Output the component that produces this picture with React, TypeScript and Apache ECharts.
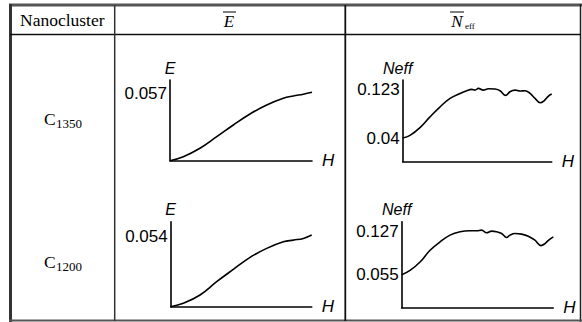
import React, { useEffect, useRef } from 'react';
import * as echarts from 'echarts';

// Row / column headings
const rowBase = 'C';
const rowSubs = ['1350', '1200'];
const headFirst = 'Nanocluster';

// C1350 — mean energy E vs field H
const hE1350 = [0, 9.4, 21.1, 32.9, 44.6, 56.3, 68.1, 79.8, 86.8, 93.9, 100];
const vE1350 = [0, 0.0034, 0.0105, 0.0203, 0.0302, 0.0395, 0.0471, 0.0528, 0.0547, 0.0562, 0.0578];
const tickE1350 = [0.057];

// C1350 — Neff vs H
const hN1350 = [0, 4.9, 11.6, 18.3, 25.1, 31.8, 38.5, 43, 46.3, 48.5, 50.8, 54.1, 57.5, 62, 65.3, 69.1, 72, 75.4, 78.7, 82.1, 85.5, 88.8, 92.2, 94.9, 97.8, 100];
const vN1350 = [0.04, 0.0446, 0.0576, 0.0758, 0.0929, 0.1071, 0.1156, 0.1202, 0.1224, 0.1212, 0.1241, 0.1212, 0.1236, 0.123, 0.1202, 0.1122, 0.1185, 0.1212, 0.1196, 0.1202, 0.1156, 0.1071, 0.0997, 0.1031, 0.1111, 0.1145];
const tickN1350 = [0.04, 0.123];

// C1200 — E vs H
const hE1200 = [0, 9, 20.8, 32.6, 44.4, 56.3, 68.1, 79.9, 87, 94.1, 100];
const vE1200 = [0, 0.0026, 0.009, 0.0193, 0.0288, 0.0381, 0.045, 0.0501, 0.0514, 0.0527, 0.0553];
const tickE1200 = [0.054];

// C1200 — Neff vs H
const hN1200 = [0, 5.5, 12.1, 18.7, 25.3, 31.9, 38.5, 45.1, 49.5, 52.7, 56, 59.3, 62.6, 65.9, 69.2, 71.4, 74.7, 79.1, 83.5, 87.9, 91.9, 94.5, 97.4, 100];
const vN1200 = [0.055, 0.0623, 0.0764, 0.0961, 0.1101, 0.1214, 0.127, 0.1287, 0.1287, 0.1298, 0.1253, 0.1281, 0.127, 0.1242, 0.1174, 0.1214, 0.1242, 0.1231, 0.1197, 0.1129, 0.1039, 0.1073, 0.1141, 0.1186];
const tickN1200 = [0.055, 0.127];

const SANS = 'Liberation Sans, Arial, sans-serif';
const SERIF = 'Liberation Serif, Times New Roman, serif';

const zip = (xs: number[], ys: number[]) => xs.map((x, i) => [x, ys[i]]);

export default function App() {
  const ref = useRef<HTMLDivElement>(null);
  useEffect(() => {
    if (!ref.current) return;
    const chart = echarts.init(ref.current, null, { renderer: 'svg' });

    const grids = [
      { left: 170, top: 80, width: 142, height: 80.7 },
      { left: 402.7, top: 80, width: 149, height: 81.7 },
      { left: 170.7, top: 221.7, width: 141, height: 85 },
      { left: 401.7, top: 221.7, width: 151.6, height: 86 },
    ];
    const yMax = [0.0682, 0.1383, 0.0656, 0.1439];
    const yNames = ['E', 'Neff', 'E', 'Neff'];
    const ticks = [tickE1350, tickN1350, tickE1200, tickN1200];
    const datas = [zip(hE1350, vE1350), zip(hN1350, vN1350), zip(hE1200, vE1200), zip(hN1200, vN1200)];

    const axisLine = { show: true, onZero: false, lineStyle: { color: '#000', width: 1.6 } };

    const xAxis = grids.map((_, i) => ({
      type: 'value', gridIndex: i, min: 0, max: 100,
      axisLine, axisTick: { show: false }, axisLabel: { show: false }, splitLine: { show: false },
      name: 'H', nameLocation: 'end', nameGap: 10,
      nameTextStyle: { fontStyle: 'italic', fontFamily: SANS, fontSize: 17, color: '#000', verticalAlign: 'middle', padding: [2, 0, 0, 0] },
    }));
    const yAxis = grids.map((_, i) => ({
      type: 'value', gridIndex: i, min: 0, max: yMax[i],
      axisLine, axisTick: { show: false }, splitLine: { show: false },
      axisLabel: {
        customValues: ticks[i], margin: 3, fontSize: 17, fontFamily: SANS, color: '#000',
        formatter: (v: number) => String(v),
      },
      name: yNames[i], nameLocation: 'end', nameGap: 4,
      nameTextStyle: { fontStyle: 'italic', fontFamily: SANS, fontSize: 16, color: '#000', align: 'center', padding: [0, i % 2 ? 10 : 0, 0, 0] },
    }));
    const series = datas.map((d, i) => ({
      type: 'line', xAxisIndex: i, yAxisIndex: i, data: d, smooth: 0.4, showSymbol: false,
      lineStyle: { color: '#000', width: 1.6 },
    }));

    const line = (x1: number, y1: number, x2: number, y2: number, w: number, c: string) => ({
      type: 'line', shape: { x1, y1, x2, y2 }, style: { stroke: c, lineWidth: w },
    });

    const graphic: any[] = [
      line(9, 5, 582, 5, 3, '#555'),
      line(10.5, 4, 10.5, 322, 3, '#333'),
      line(580.5, 4, 580.5, 322, 1.5, '#222'),
      line(9, 320.5, 582, 320.5, 2, '#555'),
      line(10, 34.5, 581, 34.5, 1.5, '#111'),
      line(114.7, 5, 114.7, 321, 1.5, '#333'),
      line(345.3, 5, 345.3, 321, 1.8, '#111'),
      { type: 'text', x: 20, y: 20, style: { text: headFirst, fontFamily: SERIF, fontSize: 17.5, fill: '#000', textAlign: 'left', textVerticalAlign: 'middle' } },
      { type: 'text', x: 229, y: 21, style: { text: 'E', fontFamily: SERIF, fontStyle: 'italic', fontSize: 17, fill: '#000', textAlign: 'center', textVerticalAlign: 'middle' } },
      line(223, 12, 236, 12, 1, '#000'),
      { type: 'text', x: 457, y: 21, style: { text: 'N', fontFamily: SERIF, fontStyle: 'italic', fontSize: 17, fill: '#000', textAlign: 'center', textVerticalAlign: 'middle' } },
      line(450, 12, 464, 12, 1, '#000'),
      { type: 'text', x: 465, y: 26, style: { text: 'eff', fontFamily: SERIF, fontSize: 9, fill: '#000', textAlign: 'left', textVerticalAlign: 'middle' } },
    ];
    const rowY = [119, 262];
    rowSubs.forEach((s, i) => {
      graphic.push({ type: 'text', x: 44, y: rowY[i], style: { text: rowBase, fontFamily: SERIF, fontSize: 17.5, fill: '#000', textAlign: 'left', textVerticalAlign: 'middle' } });
      graphic.push({ type: 'text', x: 56, y: rowY[i] + 4, style: { text: s, fontFamily: SERIF, fontSize: 13, fill: '#000', textAlign: 'left', textVerticalAlign: 'middle' } });
    });

    chart.setOption({
      animation: false,
      backgroundColor: '#fff',
      grid: grids,
      xAxis, yAxis, series, graphic,
    } as any);
    return () => chart.dispose();
  }, []);
  return <div ref={ref} style={{ position: 'fixed', left: 0, top: 0, width: 582, height: 322 }} />;
}
